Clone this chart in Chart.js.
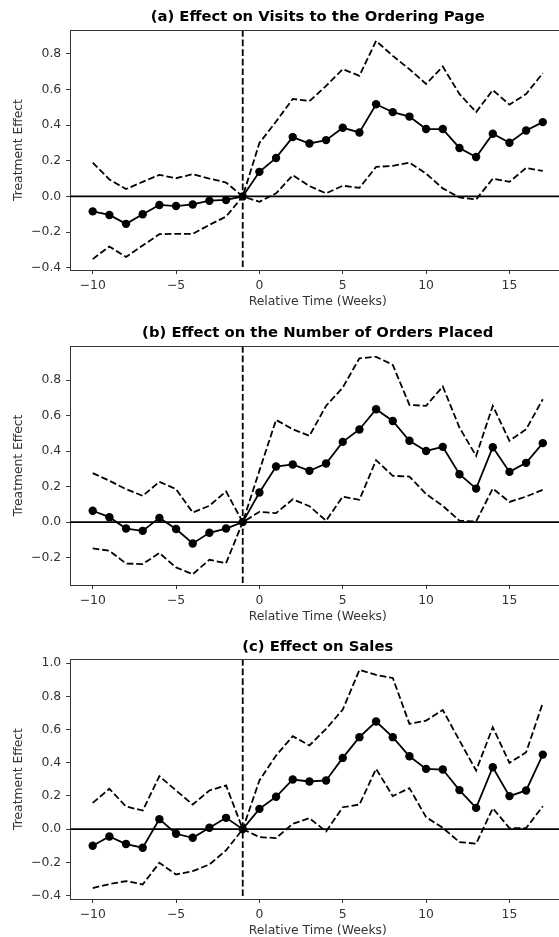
<!DOCTYPE html>
<html>
<head>
<meta charset="utf-8">
<script src="https://cdn.jsdelivr.net/npm/chart.js@4.4.1/dist/chart.umd.min.js"></script>
<style>
html, body { margin: 0; padding: 0; background: #fff; width: 559px; height: 937px; overflow: hidden; position: relative; }
canvas.p { position: absolute; left: 0; }
</style>
</head>
<body>
<canvas id="ca" class="p" style="top:0px" width="580" height="310"></canvas>
<canvas id="cb" class="p" style="top:310px" width="580" height="315"></canvas>
<canvas id="cc" class="p" style="top:625px" width="580" height="314"></canvas>
<script>
// ---- data ----
const weeks = [-10,-9,-8,-7,-6,-5,-4,-3,-2,-1,0,1,2,3,4,5,6,7,8,9,10,11,12,13,14,15,16,17];
const eventWeek = -1;
const xTicks = [-10,-5,0,5,10,15];

const titleA = "(a) Effect on Visits to the Ordering Page";
const coefA  = [-0.084,-0.104,-0.154,-0.100,-0.048,-0.054,-0.045,-0.024,-0.020,0,0.138,0.216,0.333,0.297,0.316,0.385,0.359,0.517,0.473,0.448,0.378,0.378,0.272,0.221,0.352,0.301,0.370,0.417];
const upperA = [0.190,0.095,0.041,0.082,0.121,0.102,0.125,0.100,0.078,0,0.300,0.420,0.547,0.535,0.620,0.714,0.677,0.873,0.789,0.714,0.631,0.729,0.575,0.473,0.597,0.515,0.575,0.692];
const lowerA = [-0.352,-0.281,-0.340,-0.275,-0.212,-0.210,-0.210,-0.160,-0.113,0,-0.030,0.017,0.119,0.058,0.017,0.060,0.048,0.166,0.171,0.190,0.128,0.045,-0.006,-0.017,0.100,0.082,0.160,0.143];
const yTicksA = [-0.4,-0.2,0.0,0.2,0.4,0.6,0.8];

const titleB = "(b) Effect on the Number of Orders Placed";
const coefB  = [0.064,0.028,-0.036,-0.049,0.024,-0.039,-0.120,-0.060,-0.036,0,0.167,0.313,0.325,0.289,0.330,0.452,0.522,0.636,0.570,0.458,0.401,0.424,0.270,0.189,0.422,0.283,0.334,0.445];
const upperB = [0.276,0.233,0.186,0.148,0.227,0.186,0.054,0.092,0.173,0,0.290,0.576,0.523,0.486,0.655,0.758,0.923,0.931,0.886,0.660,0.655,0.764,0.533,0.373,0.655,0.458,0.523,0.692];
const lowerB = [-0.148,-0.161,-0.233,-0.236,-0.174,-0.255,-0.293,-0.212,-0.231,0,0.058,0.051,0.129,0.090,0.008,0.144,0.126,0.349,0.261,0.257,0.158,0.092,0.008,0.004,0.189,0.114,0.144,0.182];
const yTicksB = [-0.2,0.0,0.2,0.4,0.6,0.8];

const titleC = "(c) Effect on Sales";
const coefC  = [-0.100,-0.044,-0.090,-0.112,0.060,-0.028,-0.052,0.008,0.068,0,0.122,0.195,0.299,0.287,0.293,0.429,0.554,0.648,0.554,0.439,0.363,0.359,0.235,0.128,0.373,0.199,0.233,0.449];
const upperC = [0.158,0.243,0.136,0.112,0.319,0.233,0.148,0.233,0.263,0,0.293,0.443,0.560,0.504,0.604,0.720,0.959,0.929,0.911,0.634,0.654,0.718,0.534,0.353,0.614,0.399,0.463,0.760];
const lowerC = [-0.355,-0.331,-0.313,-0.333,-0.203,-0.273,-0.253,-0.213,-0.128,0,-0.048,-0.054,0.032,0.066,-0.014,0.132,0.148,0.363,0.199,0.247,0.072,0.008,-0.078,-0.088,0.126,0.006,0.006,0.138];
const yTicksC = [-0.4,-0.2,0.0,0.2,0.4,0.6,0.8,1.0];

const xLabel = "Relative Time (Weeks)";
const yLabel = "Treatment Effect";

// ---- helpers ----
const FONT = "'DejaVu Sans', sans-serif";
const TXT = '#333';
const minus = s => String(s).replace('-', '\u2212');

const refLines = {
  id: 'refLines',
  beforeDatasetsDraw(chart) {
    const {ctx, chartArea: a, scales: {x, y}} = chart;
    ctx.save();
    ctx.strokeStyle = '#000';
    ctx.lineWidth = 1.8;
    const y0 = y.getPixelForValue(0);
    ctx.beginPath(); ctx.moveTo(a.left, y0); ctx.lineTo(a.right, y0); ctx.stroke();
    const xe = x.getPixelForValue(eventWeek);
    ctx.setLineDash([6.7, 2.9]);
    ctx.beginPath(); ctx.moveTo(xe, a.top); ctx.lineTo(xe, a.bottom); ctx.stroke();
    ctx.restore();
  },
  afterDraw(chart) {
    const {ctx, chartArea: a} = chart;
    ctx.save();
    ctx.strokeStyle = '#333';
    ctx.lineWidth = 1;
    ctx.beginPath(); ctx.moveTo(a.left, a.top + 0.5); ctx.lineTo(a.right, a.top + 0.5); ctx.stroke();
    ctx.restore();
  }
};

function pts(vals) { return weeks.map((w, i) => ({x: w, y: vals[i]})); }

function makeChart(id, title, coef, upper, lower, yMin, yMax, yTicks, tPad) {
  const dashed = {borderColor: '#000', borderWidth: 1.8, borderDash: [6.7, 2.9], pointRadius: 0, fill: false, tension: 0};
  new Chart(document.getElementById(id), {
    type: 'line',
    data: {
      datasets: [
        Object.assign({label: 'upper', data: pts(upper)}, dashed),
        Object.assign({label: 'lower', data: pts(lower)}, dashed),
        {label: 'coef', data: pts(coef), borderColor: '#000', borderWidth: 1.8, pointRadius: 4.2,
         pointBackgroundColor: '#000', pointBorderColor: '#000', pointBorderWidth: 0, fill: false, tension: 0}
      ]
    },
    options: {
      responsive: false, animation: false, devicePixelRatio: 1,
      layout: {padding: {left: 0, right: 14.7, top: 0, bottom: 0}},
      plugins: {
        legend: {display: false}, tooltip: {enabled: false},
        title: {display: true, text: title, fullSize: false, color: '#000',
                font: {family: FONT, size: 14.8, weight: 'bold'}, padding: tPad}
      },
      scales: {
        x: {
          type: 'linear', min: -11.35, max: 18.35,
          afterBuildTicks: s => { s.ticks = xTicks.map(v => ({value: v})); },
          afterFit: s => { s.height = 40; },
          grid: {drawOnChartArea: false, drawTicks: true, tickLength: 4, color: '#333', lineWidth: 1},
          border: {display: true, color: '#333', width: 1},
          ticks: {font: {family: FONT, size: 12.4}, color: TXT, padding: 4.5, maxRotation: 0, autoSkip: false,
                  callback: v => minus(v)},
          title: {display: true, text: xLabel, color: TXT, font: {family: FONT, size: 12.4}, padding: {top: 0, bottom: 1}}
        },
        y: {
          type: 'linear', min: yMin, max: yMax,
          afterBuildTicks: s => { s.ticks = yTicks.map(v => ({value: v})); },
          afterFit: s => { s.width = 70.2; },
          grid: {drawOnChartArea: false, drawTicks: true, tickLength: 4, color: '#333', lineWidth: 1},
          border: {display: true, color: '#333', width: 1},
          ticks: {font: {family: FONT, size: 12.4}, color: TXT, padding: 5, autoSkip: false,
                  callback: v => minus(Number(v).toFixed(1))},
          title: {display: true, text: yLabel, color: TXT, font: {family: FONT, size: 12.3}, padding: {top: 11.6, bottom: 0}}
        }
      }
    },
    plugins: [refLines]
  });
}

makeChart('ca', titleA, coefA, upperA, lowerA, -0.413, 0.934, yTicksA, {top: 8.6, bottom: 3.64});
makeChart('cb', titleB, coefB, upperB, lowerB, -0.354, 0.992, yTicksB, {top: 13.8, bottom: 4.44});
makeChart('cc', titleC, coefC, upperC, lowerC, -0.421, 1.025, yTicksC, {top: 12.8, bottom: 3.44});
</script>
</body>
</html>
